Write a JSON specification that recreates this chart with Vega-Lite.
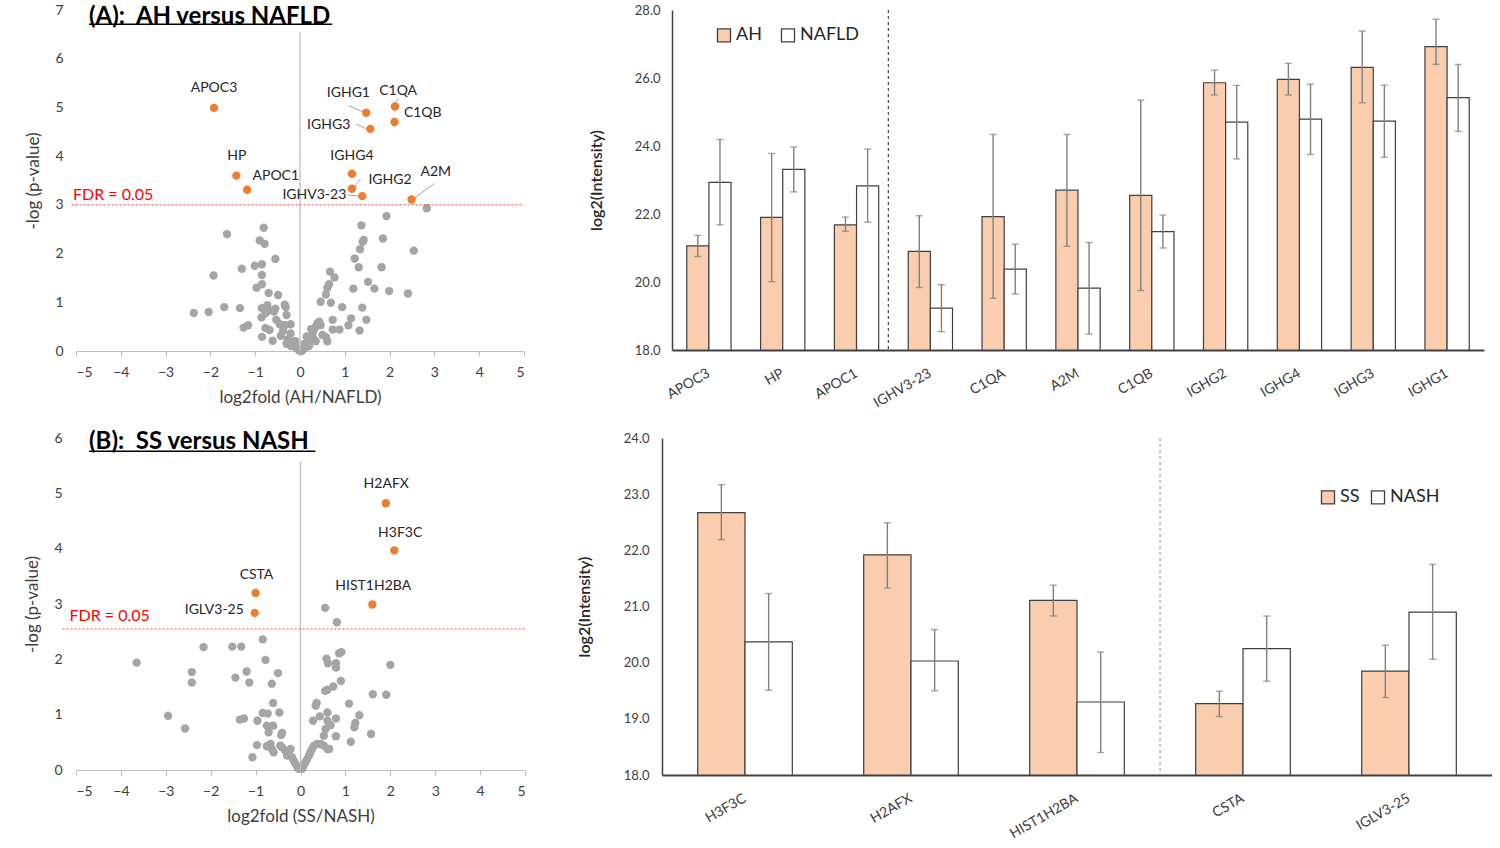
{
"$schema": "https://vega.github.io/schema/vega-lite/v6.json",
"background": "white",
"padding": {"left": 23, "top": 3, "right": 0, "bottom": 0},
"config": {"view": {"stroke": null}, "font": "Lato", "axis": {"grid": false, "labelFont": "Lato", "titleFont": "Lato"}, "legend": {"labelFont": "Lato"}, "title": {"font": "Lato"}},
"resolve": {"scale": {"fill": "independent", "xOffset": "independent"}, "legend": {"fill": "independent"}},
"datasets": {
"grayA": [
{"x":-2.37,"y":0.78},{"x":-2.04,"y":0.80},{"x":-1.69,"y":0.90},{"x":-1.34,"y":0.88},{"x":-1.93,"y":1.55},{"x":-1.63,"y":2.40},{"x":-1.30,"y":1.69},{"x":-1.01,"y":1.75},{"x":-0.85,"y":1.78},{"x":-0.81,"y":2.53},{"x":-0.90,"y":2.27},{"x":-0.79,"y":2.20},{"x":-0.85,"y":1.56},{"x":-0.55,"y":1.89},{"x":-0.97,"y":1.30},{"x":-0.85,"y":1.37},{"x":-0.70,"y":1.19},{"x":-0.49,"y":1.15},{"x":-1.26,"y":0.48},{"x":-1.16,"y":0.53},{"x":-0.85,"y":0.88},{"x":-0.73,"y":0.94},{"x":-0.70,"y":0.83},{"x":-0.77,"y":0.78},{"x":-0.86,"y":0.69},{"x":-0.55,"y":0.87},{"x":-0.53,"y":0.64},{"x":-0.58,"y":0.81},{"x":-0.34,"y":0.95},{"x":-0.32,"y":0.90},{"x":-0.30,"y":0.74},{"x":-0.77,"y":0.47},{"x":-0.68,"y":0.43},{"x":-0.85,"y":0.29},{"x":-0.61,"y":0.21},{"x":-0.43,"y":0.31},{"x":-0.34,"y":0.53},{"x":-0.21,"y":0.55},{"x":-0.38,"y":0.41},{"x":-0.28,"y":0.24},{"x":-0.21,"y":0.36},{"x":-0.17,"y":0.19},{"x":-0.13,"y":0.13},{"x":-0.10,"y":0.08},{"x":-0.06,"y":0.05},{"x":-0.02,"y":0.01},{"x":-0.20,"y":0.10},{"x":-0.30,"y":0.15},{"x":-0.10,"y":0.20},{"x":-0.45,"y":0.55},
{"x":0.02,"y":0.0},{"x":0.05,"y":0.01},{"x":0.09,"y":0.05},{"x":0.13,"y":0.08},{"x":0.16,"y":0.15},{"x":0.20,"y":0.22},{"x":0.24,"y":0.29},{"x":0.28,"y":0.36},{"x":0.31,"y":0.43},{"x":0.35,"y":0.50},{"x":0.39,"y":0.57},{"x":0.43,"y":0.60},{"x":0.46,"y":0.53},{"x":0.46,"y":1.01},{"x":0.58,"y":1.16},{"x":0.61,"y":1.30},{"x":0.65,"y":1.37},{"x":0.67,"y":1.63},{"x":0.77,"y":1.51},{"x":0.69,"y":0.99},{"x":0.73,"y":0.64},{"x":0.88,"y":0.44},{"x":0.73,"y":0.44},{"x":0.94,"y":0.90},{"x":0.58,"y":0.29},{"x":0.50,"y":0.33},{"x":0.61,"y":0.20},{"x":1.08,"y":0.53},{"x":1.14,"y":0.67},{"x":1.19,"y":1.28},{"x":1.22,"y":1.90},{"x":1.33,"y":0.42},{"x":1.31,"y":1.72},{"x":1.34,"y":2.09},{"x":1.37,"y":2.58},{"x":1.40,"y":2.24},{"x":1.42,"y":2.28},{"x":1.39,"y":0.89},{"x":1.48,"y":0.64},{"x":1.52,"y":1.42},{"x":1.66,"y":1.28},{"x":1.82,"y":1.72},{"x":1.85,"y":2.31},{"x":1.93,"y":2.77},{"x":1.99,"y":1.23},{"x":2.41,"y":1.18},{"x":2.54,"y":2.06},{"x":2.83,"y":2.93},{"x":0.10,"y":0.15},{"x":0.20,"y":0.10},{"x":0.30,"y":0.25},{"x":0.35,"y":0.20},{"x":0.25,"y":0.45},{"x":0.15,"y":0.30}
],
"sigA": [
{"g":"APOC3","x":-1.92,"y":4.99,"lx":-1.92,"ly":5.39},
{"g":"HP","x":-1.42,"y":3.60,"lx":-1.41,"ly":4.01},
{"g":"APOC1","x":-1.18,"y":3.31,"lx":-0.54,"ly":3.60},
{"g":"IGHG1","x":1.48,"y":4.89,"lx":1.08,"ly":5.29},
{"g":"IGHG3","x":1.57,"y":4.56,"lx":0.64,"ly":4.64},
{"g":"C1QA","x":2.12,"y":5.02,"lx":2.19,"ly":5.34},
{"g":"C1QB","x":2.11,"y":4.70,"lx":2.74,"ly":4.89},
{"g":"IGHG4","x":1.16,"y":3.64,"lx":1.16,"ly":4.01},
{"g":"IGHG2","x":1.16,"y":3.33,"lx":2.01,"ly":3.51},
{"g":"IGHV3-23","x":1.39,"y":3.18,"lx":0.32,"ly":3.20},
{"g":"A2M","x":2.49,"y":3.11,"lx":3.03,"ly":3.68}
],
"leadA": [
{"x1":1.08,"y1":5.04,"x2":1.43,"y2":4.90},
{"x1":2.20,"y1":5.19,"x2":2.12,"y2":5.08},
{"x1":1.25,"y1":4.66,"x2":1.49,"y2":4.56},
{"x1":1.35,"y1":3.53,"x2":1.21,"y2":3.37},
{"x1":1.07,"y1":3.20,"x2":1.34,"y2":3.18},
{"x1":3.01,"y1":3.44,"x2":2.57,"y2":3.15}
],
"grayB": [
{"x":0.55,"y":2.93},{"x":0.81,"y":2.67},{"x":-0.84,"y":2.36},{"x":-2.16,"y":2.22},{"x":-1.52,"y":2.23},{"x":-1.32,"y":2.23},{"x":-0.78,"y":1.99},{"x":-2.42,"y":1.77},{"x":-2.42,"y":1.58},{"x":-1.45,"y":1.67},{"x":-1.20,"y":1.78},{"x":-1.14,"y":1.58},{"x":-0.50,"y":1.75},{"x":-0.64,"y":1.56},{"x":-2.95,"y":0.98},{"x":-2.57,"y":0.75},{"x":-3.65,"y":1.94},{"x":-1.35,"y":0.91},{"x":-1.26,"y":0.93},{"x":-0.96,"y":0.89},{"x":-0.84,"y":1.03},{"x":-0.73,"y":1.02},{"x":-0.61,"y":1.21},{"x":-0.47,"y":1.04},{"x":-0.75,"y":0.80},{"x":-0.61,"y":0.80},{"x":-0.71,"y":0.68},{"x":-0.43,"y":0.63},{"x":-0.41,"y":0.67},{"x":-0.97,"y":0.45},{"x":-1.07,"y":0.23},{"x":-0.75,"y":0.43},{"x":-0.67,"y":0.47},{"x":-0.64,"y":0.38},{"x":-0.60,"y":0.32},{"x":-0.45,"y":0.44},{"x":-0.41,"y":0.41},{"x":-0.34,"y":0.35},{"x":-0.22,"y":0.38},{"x":-0.30,"y":0.26},{"x":-0.19,"y":0.23},{"x":-0.15,"y":0.17},{"x":-0.11,"y":0.11},{"x":-0.07,"y":0.05},{"x":-0.04,"y":0.02},
{"x":0.04,"y":0.02},{"x":0.07,"y":0.08},{"x":0.11,"y":0.14},{"x":0.15,"y":0.20},{"x":0.19,"y":0.26},{"x":0.22,"y":0.32},{"x":0.26,"y":0.38},{"x":0.30,"y":0.44},{"x":0.37,"y":0.47},{"x":0.45,"y":0.47},{"x":0.52,"y":0.62},{"x":0.56,"y":0.74},{"x":0.64,"y":0.38},{"x":0.28,"y":0.89},{"x":0.43,"y":0.97},{"x":0.60,"y":1.04},{"x":0.79,"y":0.93},{"x":0.36,"y":1.21},{"x":0.34,"y":1.16},{"x":0.55,"y":1.43},{"x":0.60,"y":1.45},{"x":0.73,"y":1.51},{"x":0.90,"y":1.61},{"x":0.58,"y":2.01},{"x":0.61,"y":1.93},{"x":0.79,"y":1.93},{"x":0.79,"y":1.85},{"x":0.86,"y":2.11},{"x":0.91,"y":2.13},{"x":1.08,"y":1.20},{"x":1.31,"y":0.99},{"x":1.22,"y":0.85},{"x":1.20,"y":0.77},{"x":1.12,"y":0.51},{"x":1.57,"y":0.65},{"x":1.61,"y":1.37},{"x":1.91,"y":1.36},{"x":2.00,"y":1.90},{"x":0.60,"y":0.89},{"x":0.67,"y":0.81},{"x":0.79,"y":0.61},{"x":0.52,"y":0.44},{"x":0.60,"y":0.38}
],
"sigB": [
{"g":"H2AFX","x":1.90,"y":4.82,"lx":1.91,"ly":5.16},
{"g":"H3F3C","x":2.09,"y":3.97,"lx":2.22,"ly":4.28},
{"g":"CSTA","x":-1.00,"y":3.20,"lx":-0.98,"ly":3.53},
{"g":"IGLV3-25","x":-1.02,"y":2.84,"lx":-1.92,"ly":2.90},
{"g":"HIST1H2BA","x":1.60,"y":2.99,"lx":1.62,"ly":3.32}
],
"barA": [
{"gene":"APOC3","grp":"AH","v":21.06,"lo":20.75,"hi":21.37},
{"gene":"APOC3","grp":"NAFLD","v":22.93,"lo":21.68,"hi":24.19},
{"gene":"HP","grp":"AH","v":21.90,"lo":20.01,"hi":23.78},
{"gene":"HP","grp":"NAFLD","v":23.31,"lo":22.65,"hi":23.97},
{"gene":"APOC1","grp":"AH","v":21.68,"lo":21.49,"hi":21.91},
{"gene":"APOC1","grp":"NAFLD","v":22.83,"lo":21.76,"hi":23.91},
{"gene":"IGHV3-23","grp":"AH","v":20.90,"lo":19.84,"hi":21.95},
{"gene":"IGHV3-23","grp":"NAFLD","v":19.23,"lo":18.54,"hi":19.92},
{"gene":"C1QA","grp":"AH","v":21.92,"lo":19.52,"hi":24.34},
{"gene":"C1QA","grp":"NAFLD","v":20.38,"lo":19.65,"hi":21.11},
{"gene":"A2M","grp":"AH","v":22.70,"lo":21.05,"hi":24.34},
{"gene":"A2M","grp":"NAFLD","v":19.82,"lo":18.47,"hi":21.16},
{"gene":"C1QB","grp":"AH","v":22.55,"lo":19.75,"hi":25.35},
{"gene":"C1QB","grp":"NAFLD","v":21.48,"lo":21.0,"hi":21.97},
{"gene":"IGHG2","grp":"AH","v":25.86,"lo":25.50,"hi":26.23},
{"gene":"IGHG2","grp":"NAFLD","v":24.70,"lo":23.62,"hi":25.78},
{"gene":"IGHG4","grp":"AH","v":25.96,"lo":25.50,"hi":26.43},
{"gene":"IGHG4","grp":"NAFLD","v":24.79,"lo":23.75,"hi":25.82},
{"gene":"IGHG3","grp":"AH","v":26.31,"lo":25.27,"hi":27.38},
{"gene":"IGHG3","grp":"NAFLD","v":24.73,"lo":23.67,"hi":25.79},
{"gene":"IGHG1","grp":"AH","v":26.92,"lo":26.40,"hi":27.73},
{"gene":"IGHG1","grp":"NAFLD","v":25.42,"lo":24.43,"hi":26.40}
],
"barB": [
{"gene":"H3F3C","grp":"SS","v":22.67,"lo":22.19,"hi":23.17},
{"gene":"H3F3C","grp":"NASH","v":20.37,"lo":19.51,"hi":21.23},
{"gene":"H2AFX","grp":"SS","v":21.92,"lo":21.33,"hi":22.49},
{"gene":"H2AFX","grp":"NASH","v":20.03,"lo":19.50,"hi":20.59},
{"gene":"HIST1H2BA","grp":"SS","v":21.11,"lo":20.83,"hi":21.38},
{"gene":"HIST1H2BA","grp":"NASH","v":19.30,"lo":18.40,"hi":20.19},
{"gene":"CSTA","grp":"SS","v":19.27,"lo":19.04,"hi":19.49},
{"gene":"CSTA","grp":"NASH","v":20.25,"lo":19.67,"hi":20.83},
{"gene":"IGLV3-25","grp":"SS","v":19.85,"lo":19.38,"hi":20.31},
{"gene":"IGLV3-25","grp":"NASH","v":20.90,"lo":20.06,"hi":21.75}
]
},
"spacing": 20,
"vconcat": [
{"spacing": 63, "resolve": {"scale": {"fill": "independent", "xOffset": "independent"}, "legend": {"fill": "independent"}}, "hconcat": [
{
"width": 448, "height": 341,
"title": {"text": "(A):\u00a0 AH versus NAFLD", "anchor": "start", "frame": "group", "dx": 13, "offset": -26, "fontSize": 24, "fontWeight": "bold", "color": "#000000"},
"layer": [
{"data": {"name": "grayA"}, "mark": {"type": "circle", "size": 70, "color": "#A5A5A5", "opacity": 1},
 "encoding": {
  "x": {"field": "x", "type": "quantitative", "scale": {"domain": [-5, 5]}, "axis": {"values": [-5,-4,-3,-2,-1,0,1,2,3,4,5], "domainColor": "#BFBFBF", "tickColor": "#BFBFBF", "tickSize": 5, "labelFontSize": 14, "labelColor": "#404040", "labelPadding": 9, "title": "log2fold (AH/NAFLD)", "titleFontSize": 17, "titleFontWeight": "normal", "titleColor": "#404040", "titlePadding": 10}},
  "y": {"field": "y", "type": "quantitative", "scale": {"domain": [0, 7]}, "axis": {"values": [0,1,2,3,4,5,6,7], "format": "d", "domain": false, "ticks": false, "tickSize": 0, "labelFontSize": 14, "labelColor": "#404040", "labelPadding": 13, "title": "-log (p-value)", "titleFontSize": 17, "titleFontWeight": "normal", "titleColor": "#404040", "titlePadding": 12}}
 }},
{"data": {"values": [{}]}, "mark": {"type": "rule", "color": "#BFBFBF", "strokeWidth": 1.3}, "encoding": {"x": {"datum": 0}, "y": {"datum": 0}, "y2": {"datum": 6.54}}},
{"data": {"values": [{}]}, "mark": {"type": "rule", "color": "#000000", "strokeWidth": 1.5}, "encoding": {"x": {"datum": -4.71}, "x2": {"datum": 0.72}, "y": {"datum": 6.71}}},
{"data": {"values": [{}]}, "mark": {"type": "rule", "color": "#FF4040", "strokeDash": [2, 2], "strokeWidth": 1}, "encoding": {"y": {"datum": 3}, "x": {"datum": -5.1}, "x2": {"datum": 5}}},
{"data": {"values": [{}]}, "mark": {"type": "text", "color": "#FF0000", "fontSize": 16}, "encoding": {"x": {"datum": -4.17}, "y": {"datum": 3.2}, "text": {"value": "FDR = 0.05"}}},
{"data": {"name": "leadA"}, "mark": {"type": "rule", "color": "#A5A5A5", "strokeWidth": 1}, "encoding": {"x": {"field": "x1", "type": "quantitative"}, "y": {"field": "y1", "type": "quantitative"}, "x2": {"field": "x2"}, "y2": {"field": "y2"}}},
{"data": {"name": "sigA"}, "mark": {"type": "circle", "size": 70, "color": "#ED7D31", "opacity": 1}, "encoding": {"x": {"field": "x", "type": "quantitative"}, "y": {"field": "y", "type": "quantitative"}}},
{"data": {"name": "sigA"}, "mark": {"type": "text", "fontSize": 14, "color": "#262626"}, "encoding": {"x": {"field": "lx", "type": "quantitative"}, "y": {"field": "ly", "type": "quantitative"}, "text": {"field": "g"}}}
]
},
{
"width": 812, "height": 340,
"data": {"name": "barA"},
"encoding": {"x": {"field": "gene", "type": "nominal", "sort": null, "scale": {"paddingInner": 0.4, "paddingOuter": 0.2}, "axis": {"labelAngle": -30, "labelAlign": "right", "labelBaseline": "middle", "labelPadding": 22, "labelFontSize": 14, "labelColor": "#404040", "ticks": false, "tickSize": 0, "domainColor": "#404040", "domainWidth": 2, "title": null}}},
"layer": [
{"mark": {"type": "bar", "stroke": "#404040", "strokeWidth": 1.2},
 "encoding": {
  "xOffset": {"field": "grp", "type": "nominal", "sort": ["AH", "NAFLD"], "scale": {"paddingInner": 0, "paddingOuter": 0}},
  "y": {"field": "v", "type": "quantitative", "scale": {"domain": [18, 28], "zero": false}, "axis": {"values": [18,20,22,24,26,28], "format": ".1f", "labelFontSize": 13, "labelColor": "#404040", "ticks": false, "tickSize": 0, "labelPadding": 12, "domainColor": "#404040", "domainWidth": 1.5, "title": "log2(Intensity)", "titleFontSize": 16, "titleFontWeight": 600, "titleColor": "#262626", "titlePadding": 30}},
  "y2": {"datum": 18},
  "fill": {"field": "grp", "type": "nominal", "scale": {"domain": ["AH", "NAFLD"], "range": ["#F9CDAE", "#FFFFFF"]}, "legend": {"orient": "none", "legendX": 43, "legendY": 16, "direction": "horizontal", "title": null, "symbolType": "square", "symbolSize": 170, "symbolStrokeColor": "#404040", "symbolStrokeWidth": 1.3, "labelFontSize": 18, "labelColor": "#262626", "columnPadding": 16, "labelOffset": 3}}
 }},
{"mark": {"type": "rule", "color": "#808080", "strokeWidth": 1.4}, "encoding": {"xOffset": {"field": "grp", "type": "nominal", "sort": ["AH", "NAFLD"]}, "y": {"field": "lo", "type": "quantitative"}, "y2": {"field": "hi"}}},
{"mark": {"type": "tick", "orient": "horizontal", "size": 7, "thickness": 1.4, "color": "#808080"}, "encoding": {"xOffset": {"field": "grp", "type": "nominal", "sort": ["AH", "NAFLD"]}, "y": {"field": "lo", "type": "quantitative"}}},
{"mark": {"type": "tick", "orient": "horizontal", "size": 7, "thickness": 1.4, "color": "#808080"}, "encoding": {"xOffset": {"field": "grp", "type": "nominal", "sort": ["AH", "NAFLD"]}, "y": {"field": "hi", "type": "quantitative"}}},
{"data": {"values": [{}]}, "mark": {"type": "rule", "color": "#000000", "strokeDash": [3, 3], "strokeWidth": 0.9}, "encoding": {"x": {"datum": "IGHV3-23", "bandPosition": -0.45}, "y": {"datum": 28}, "y2": {"datum": 18}}}
]
}
]},
{"spacing": 50, "resolve": {"scale": {"fill": "independent", "xOffset": "independent"}, "legend": {"fill": "independent"}}, "hconcat": [
{
"width": 449, "height": 332,
"title": {"text": "(B):\u00a0 SS versus NASH", "anchor": "start", "frame": "group", "dx": 13, "offset": -23, "fontSize": 24, "fontWeight": "bold", "color": "#000000"},
"layer": [
{"data": {"name": "grayB"}, "mark": {"type": "circle", "size": 70, "color": "#A5A5A5", "opacity": 1},
 "encoding": {
  "x": {"field": "x", "type": "quantitative", "scale": {"domain": [-5, 5]}, "axis": {"values": [-5,-4,-3,-2,-1,0,1,2,3,4,5], "domainColor": "#BFBFBF", "tickColor": "#BFBFBF", "tickSize": 5, "labelFontSize": 14, "labelColor": "#404040", "labelPadding": 9, "title": "log2fold (SS/NASH)", "titleFontSize": 17, "titleFontWeight": "normal", "titleColor": "#404040", "titlePadding": 10}},
  "y": {"field": "y", "type": "quantitative", "scale": {"domain": [0, 6]}, "axis": {"values": [0,1,2,3,4,5,6], "format": "d", "domain": false, "ticks": false, "tickSize": 0, "labelFontSize": 14, "labelColor": "#404040", "labelPadding": 14, "title": "-log (p-value)", "titleFontSize": 17, "titleFontWeight": "normal", "titleColor": "#404040", "titlePadding": 12}}
 }},
{"data": {"values": [{}]}, "mark": {"type": "rule", "color": "#BFBFBF", "strokeWidth": 1.3}, "encoding": {"x": {"datum": 0}, "y": {"datum": 0}, "y2": {"datum": 5.57}}},
{"data": {"values": [{}]}, "mark": {"type": "rule", "color": "#000000", "strokeWidth": 1.5}, "encoding": {"x": {"datum": -4.71}, "x2": {"datum": 0.33}, "y": {"datum": 5.76}}},
{"data": {"values": [{}]}, "mark": {"type": "rule", "color": "#FF4040", "strokeDash": [2, 2], "strokeWidth": 1}, "encoding": {"y": {"datum": 2.55}, "x": {"datum": -5.3}, "x2": {"datum": 5}}},
{"data": {"values": [{}]}, "mark": {"type": "text", "color": "#FF0000", "fontSize": 16}, "encoding": {"x": {"datum": -4.25}, "y": {"datum": 2.79}, "text": {"value": "FDR = 0.05"}}},
{"data": {"name": "sigB"}, "mark": {"type": "circle", "size": 70, "color": "#ED7D31", "opacity": 1}, "encoding": {"x": {"field": "x", "type": "quantitative"}, "y": {"field": "y", "type": "quantitative"}}},
{"data": {"name": "sigB"}, "mark": {"type": "text", "fontSize": 14, "color": "#262626"}, "encoding": {"x": {"field": "lx", "type": "quantitative"}, "y": {"field": "ly", "type": "quantitative"}, "text": {"field": "g"}}}
]
},
{
"width": 830, "height": 337,
"data": {"name": "barB"},
"encoding": {"x": {"field": "gene", "type": "nominal", "sort": null, "scale": {"paddingInner": 0.43, "paddingOuter": 0.215}, "axis": {"labelAngle": -30, "labelAlign": "right", "labelBaseline": "middle", "labelPadding": 22, "labelFontSize": 14, "labelColor": "#404040", "ticks": false, "tickSize": 0, "domainColor": "#404040", "domainWidth": 2, "title": null}}},
"layer": [
{"mark": {"type": "bar", "stroke": "#404040", "strokeWidth": 1.2},
 "encoding": {
  "xOffset": {"field": "grp", "type": "nominal", "sort": ["SS", "NASH"], "scale": {"paddingInner": 0, "paddingOuter": 0}},
  "y": {"field": "v", "type": "quantitative", "scale": {"domain": [18, 24], "zero": false}, "axis": {"values": [18,19,20,21,22,23,24], "format": ".1f", "labelFontSize": 13, "labelColor": "#404040", "ticks": false, "tickSize": 0, "labelPadding": 13, "domainColor": "#404040", "domainWidth": 1.5, "title": "log2(Intensity)", "titleFontSize": 16, "titleFontWeight": 600, "titleColor": "#262626", "titlePadding": 31}},
  "y2": {"datum": 18},
  "fill": {"field": "grp", "type": "nominal", "scale": {"domain": ["SS", "NASH"], "range": ["#F9CDAE", "#FFFFFF"]}, "legend": {"orient": "none", "legendX": 657, "legendY": 50, "direction": "horizontal", "title": null, "symbolType": "square", "symbolSize": 170, "symbolStrokeColor": "#404040", "symbolStrokeWidth": 1.3, "labelFontSize": 18, "labelColor": "#262626", "columnPadding": 8, "labelOffset": 3}}
 }},
{"mark": {"type": "rule", "color": "#808080", "strokeWidth": 1.4}, "encoding": {"xOffset": {"field": "grp", "type": "nominal", "sort": ["SS", "NASH"]}, "y": {"field": "lo", "type": "quantitative"}, "y2": {"field": "hi"}}},
{"mark": {"type": "tick", "orient": "horizontal", "size": 7, "thickness": 1.4, "color": "#808080"}, "encoding": {"xOffset": {"field": "grp", "type": "nominal", "sort": ["SS", "NASH"]}, "y": {"field": "lo", "type": "quantitative"}}},
{"mark": {"type": "tick", "orient": "horizontal", "size": 7, "thickness": 1.4, "color": "#808080"}, "encoding": {"xOffset": {"field": "grp", "type": "nominal", "sort": ["SS", "NASH"]}, "y": {"field": "hi", "type": "quantitative"}}},
{"data": {"values": [{}]}, "mark": {"type": "rule", "color": "#808080", "strokeDash": [3, 3], "strokeWidth": 0.9}, "encoding": {"x": {"datum": "CSTA", "bandPosition": -0.377}, "y": {"datum": 24}, "y2": {"datum": 18}}}
]
}
]}
]
}
